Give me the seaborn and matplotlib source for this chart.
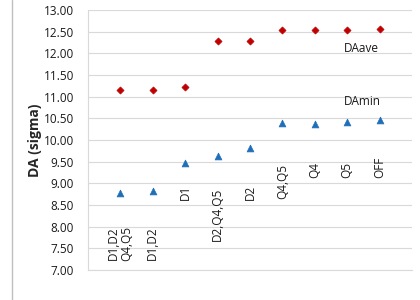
import pandas as pd
import matplotlib.pyplot as plt
import seaborn as sns
from matplotlib.lines import Line2D

# данные
configs = ["D1,D2\nQ4,Q5", "D1,D2", "D1", "D2,Q4,Q5", "D2", "Q4,Q5", "Q4", "Q5", "OFF"]
da_ave = [11.15, 11.15, 11.23, 12.29, 12.28, 12.54, 12.54, 12.54, 12.56]
da_min = [8.77, 8.82, 9.47, 9.64, 9.81, 10.38, 10.36, 10.41, 10.45]
label_y = [7.62, 7.62, 8.79, 8.28, 8.78, 9.04, 9.30, 9.30, 9.37]

pos = list(range(1, len(configs) + 1))
df = pd.DataFrame({"pos": pos, "DAave": da_ave, "DAmin": da_min})

sns.set_style("white")
plt.rcParams['font.family'] = ['Open Sans', 'DejaVu Sans']

fig = plt.figure(figsize=(4.2, 3.0), dpi=100)
ax = fig.add_axes([0.2095, 0.1, 0.7715, 0.867])

sns.scatterplot(data=df, x="pos", y="DAave", marker="D", s=13, color="#c00000",
                edgecolor="#c00000", linewidth=0.5, ax=ax, zorder=3)
sns.scatterplot(data=df, x="pos", y="DAmin", marker="^", s=24, color="#1f6fb8",
                edgecolor="#1f6fb8", linewidth=0.5, ax=ax, zorder=3)

ax.set_xlim(0, 10)
ax.set_ylim(7, 13)
ax.set_yticks([7 + 0.5 * i for i in range(13)])
ax.set_yticklabels([f"{7 + 0.5 * i:.2f}" for i in range(13)], fontsize=8.5, color="#1a1a1a")
ax.set_xticks(range(0, 11))
ax.set_xticklabels([])
ax.grid(axis="y", color="#d9d9d9", linewidth=0.8)
for s in ["top", "right"]:
    ax.spines[s].set_visible(False)
for s in ["left", "bottom"]:
    ax.spines[s].set_color("#d9d9d9")
    ax.spines[s].set_linewidth(0.8)
ax.tick_params(axis="y", length=5, color="#d9d9d9", pad=5)
ax.tick_params(axis="x", length=5, color="#d9d9d9", direction="out")
ax.set_xlabel("")
ax.set_ylabel("DA (sigma)", fontsize=10, fontweight="bold", labelpad=1)

# подписи конфигураций
for x, txt, y in zip(pos, configs, label_y):
    ax.text(x, y, txt, rotation=90, ha="center", va="center", fontsize=8.5,
            color="#1a1a1a", linespacing=1.05)

ax.text(7.9, 12.12, "DAave", fontsize=8.5, va="center", color="#1a1a1a")
ax.text(7.9, 10.88, "DAmin", fontsize=8.5, va="center", color="#1a1a1a")

fig.add_artist(Line2D([12 / 420, 12 / 420], [0, 1], color="#bfbfbf", linewidth=1))

plt.savefig("out.png", dpi=100)
